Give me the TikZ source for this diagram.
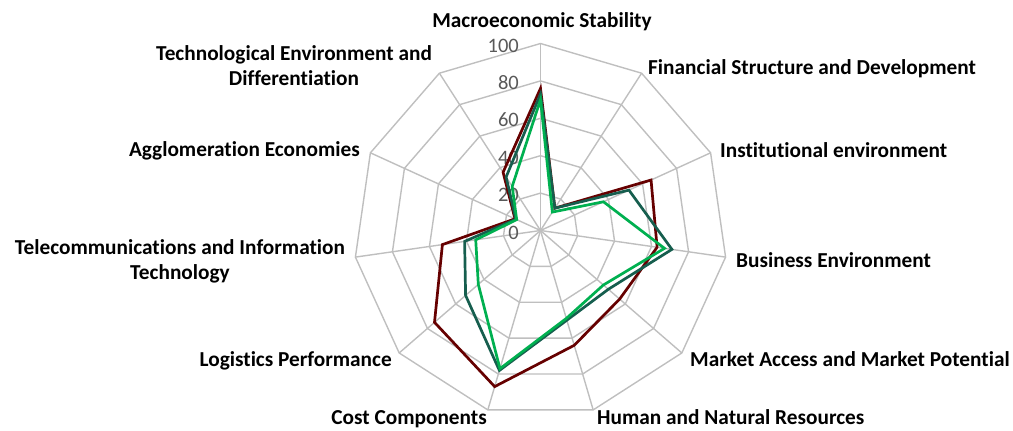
\documentclass[tikz,border=0pt]{standalone}
\usepackage{fontspec}
\setmainfont{Carlito}[Ligatures=NoCommon]
\definecolor{gridc}{RGB}{191,191,191}
\definecolor{maroonc}{RGB}{102,0,0}
\definecolor{tealc}{RGB}{22,94,78}
\definecolor{greenc}{RGB}{0,176,80}
\definecolor{tickc}{RGB}{89,89,89}
\begin{document}
\begin{tikzpicture}[x=1pt,y=-1pt,
  gridline/.style={draw=gridc, line width=1.4pt},
  series/.style={line width=2.7pt},
  catlabel/.style={font=\fontsize{21.3}{25.5}\selectfont\bfseries, text=black, inner sep=0pt, text height=13.7pt, text depth=0pt},
  ticklabel/.style={font=\fontsize{20.5}{24}\selectfont, text=tickc, inner sep=0pt, text height=13pt, text depth=0pt, anchor=east}]
\useasboundingbox (0,0) rectangle (1013,431);
\def\cx{540.5}
\def\cy{230.5}
\def\R{187}
\coordinate (c) at (\cx,\cy);
% grid polygons
\foreach \lev in {20,40,60,80,100}{
  \draw[gridline] plot[samples at={0,...,10}] ({\cx+\lev/100*\R*sin(\x*360/11)}, {\cy-\lev/100*\R*cos(\x*360/11)}) -- cycle;
}
% spokes
\foreach \k in {0,...,10}{
  \coordinate (o\k) at ({\cx+\R*sin(\k*360/11)}, {\cy-\R*cos(\k*360/11)});
  \draw[gridline] (c) -- (o\k);
}
% tick labels
\foreach \lev in {0,20,40,60,80,100}{
  \node[ticklabel] (t\lev) at (519, {\cy-\lev/100*\R+2}) {\lev};
}
% series coordinates
\foreach \v [count=\k from 0] in {76,14.2,65,63,56,64,87,75,53,15,37}{
  \coordinate (m\k) at ({\cx+\v/100*\R*sin(\k*360/11)}, {\cy-\v/100*\R*cos(\k*360/11)});
}
\foreach \v [count=\k from 0] in {73,14.2,52,71,48,50,78,53,41,14.5,34}{
  \coordinate (d\k) at ({\cx+\v/100*\R*sin(\k*360/11)}, {\cy-\v/100*\R*cos(\k*360/11)});
}
\foreach \v [count=\k from 0] in {70,11.7,37,67,44.5,49,77,44,35,14,28}{
  \coordinate (g\k) at ({\cx+\v/100*\R*sin(\k*360/11)}, {\cy-\v/100*\R*cos(\k*360/11)});
}
\draw[series, draw=maroonc] (m0) -- (m1) -- (m2) -- (m3) -- (m4) -- (m5) -- (m6) -- (m7) -- (m8) -- (m9) -- (m10) -- cycle;
\draw[series, draw=tealc] (d0) -- (d1) -- (d2) -- (d3) -- (d4) -- (d5) -- (d6) -- (d7) -- (d8) -- (d9) -- (d10) -- cycle;
\draw[series, draw=greenc] (g0) -- (g1) -- (g2) -- (g3) -- (g4) -- (g5) -- (g6) -- (g7) -- (g8) -- (g9) -- (g10) -- cycle;
% category labels
\node[catlabel] (lab0) at (542,20.5) {Macroeconomic Stability};
\node[catlabel, anchor=west] (lab1) at (648,68) {Financial Structure and Development};
\node[catlabel, anchor=west] (lab2) at (720,151) {Institutional environment};
\node[catlabel, anchor=west] (lab3) at (736,261) {Business Environment};
\node[catlabel, anchor=west] (lab4) at (690,360) {Market Access and Market Potential};
\node[catlabel, anchor=west] (lab5) at (597,418) {Human and Natural Resources};
\node[catlabel, anchor=east] (lab6) at (487,418) {Cost Components};
\node[catlabel, anchor=east] (lab7) at (392,360) {Logistics Performance};
\node[catlabel, align=center] (lab8) at (180,273) {Telecommunications and Information\\Technology};
\node[catlabel, align=center] (lab10) at (294,79) {Technological Environment and\\Differentiation};
\node[catlabel, anchor=east] (lab9) at (360,150) {Agglomeration Economies};
\end{tikzpicture}
\end{document}
